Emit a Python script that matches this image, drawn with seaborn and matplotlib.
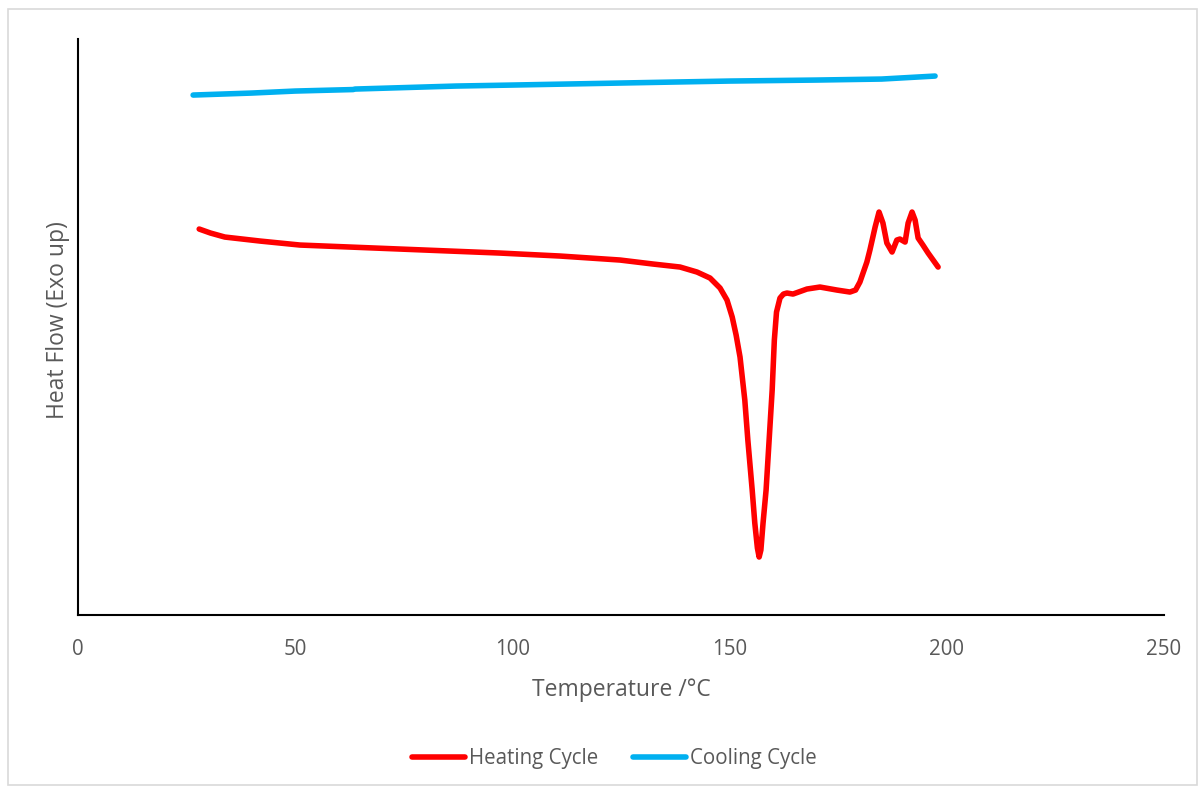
import matplotlib
matplotlib.use("Agg")
import matplotlib.pyplot as plt
import seaborn as sns
import pandas as pd
from matplotlib.patches import Rectangle
from matplotlib.lines import Line2D

# Heating cycle (temperature in °C, heat flow in arbitrary units, exo up)
heat_T = [27.9, 30.5, 33.8, 41.9, 51.1, 74.1, 97.1, 111.0, 124.8, 132.4, 138.6,
          142.5, 145.5, 147.8, 149.4, 150.6, 151.5, 152.4, 153.5, 154.2, 155.2,
          155.8, 156.4, 156.8, 157.2, 157.7, 158.4, 159.1, 159.8, 160.3, 160.8,
          161.6, 162.4, 163.2, 164.6, 167.8, 170.8, 174.7, 177.7, 179.0, 180.0,
          181.6, 182.3, 183.5, 184.4, 185.3, 186.2, 187.4, 188.5, 189.2, 190.4,
          191.1, 192.0, 192.7, 193.4, 194.5, 195.7, 198.0]
heat_HF = [386, 382, 378, 374, 370, 366, 362, 359, 355, 351, 348,
           343, 337, 327, 315, 298, 280, 258, 215, 175, 125,
           92, 67, 58, 65, 92, 125, 175, 225, 275, 303,
           317, 321, 322, 321, 326, 328, 325, 323, 325, 333,
           353, 365, 388, 403, 392, 372, 363, 375, 376, 373,
           392, 403, 395, 377, 370, 362, 348]

# Cooling cycle
cool_T = [26.5, 40.0, 50.0, 63.3, 63.8, 87.0, 100.0, 137.0, 150.0, 170.0, 185.0, 197.3]
cool_HF = [520, 522, 524, 525.5, 526, 529, 530, 533, 534, 535, 536, 539]

series_names = ["Heating Cycle", "Cooling Cycle"]
colors = {"Heating Cycle": "#FF0000", "Cooling Cycle": "#00B0F0"}
x_ticks = [0, 50, 100, 150, 200, 250]

df = pd.concat([
    pd.DataFrame({"T": heat_T, "HF": heat_HF, "Series": series_names[0]}),
    pd.DataFrame({"T": cool_T, "HF": cool_HF, "Series": series_names[1]}),
])

sns.set_theme(style="white")
plt.rcParams["font.family"] = ["Open Sans", "DejaVu Sans"]

fig = plt.figure(figsize=(12, 7.89), dpi=100)
ax = fig.add_axes([0.065, 0.2205, 0.905, 0.730])

sns.lineplot(data=df, x="T", y="HF", hue="Series", palette=colors, sort=False,
             estimator=None, linewidth=4.0, ax=ax, legend=False)
for l in ax.lines:
    l.set_solid_capstyle("round")
    l.set_solid_joinstyle("round")

ax.set_xlim(0, 250)
ax.set_ylim(0, 576)
ax.set_xticks(x_ticks)
ax.set_xticklabels([str(t) for t in x_ticks], color="#595959", fontsize=14.8)
ax.set_yticks([])
ax.tick_params(axis="x", length=0, pad=17)
ax.set_xlabel("Temperature /°C", color="#595959", fontsize=16.5, labelpad=13)
ax.set_ylabel("Heat Flow (Exo up)", color="#595959", fontsize=16.5)
ax.yaxis.set_label_coords(-0.0075, 0.512)

for side in ["top", "right"]:
    ax.spines[side].set_visible(False)
for side in ["left", "bottom"]:
    ax.spines[side].set_color("black")
    ax.spines[side].set_linewidth(1.5)

handles = [Line2D([], [], color=colors[n], linewidth=4.0, solid_capstyle="round") for n in series_names]
fig.legend(handles, series_names, loc="center", bbox_to_anchor=(0.512, 0.039), ncol=2,
           frameon=False, fontsize=14.8, labelcolor="#595959", handlelength=2.6,
           handletextpad=0.2, columnspacing=1.65)

fig.patches.append(Rectangle((8 / 1200, 4 / 789), 1189 / 1200, 776 / 789,
                             transform=fig.transFigure, fill=False,
                             edgecolor="#D9D9D9", linewidth=1.2))

fig.savefig("out.png", dpi=100)
